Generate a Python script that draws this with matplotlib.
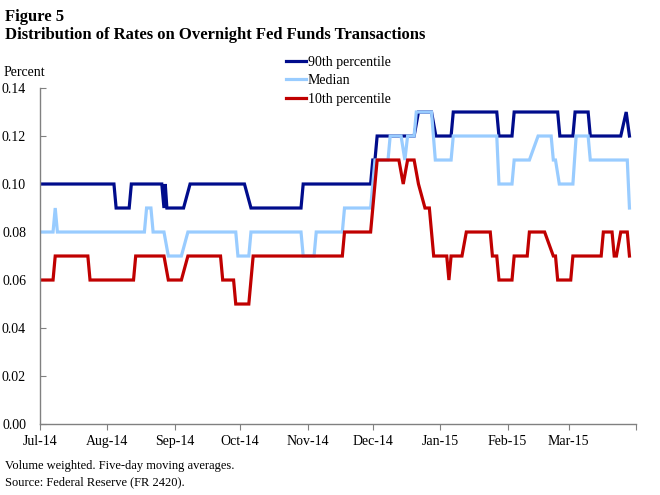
import matplotlib
matplotlib.use("Agg")
import matplotlib.pyplot as plt
import pandas as pd

# vertices (date, percent)
p90_dates = ["2014-07-01", "2014-08-04", "2014-08-05", "2014-08-11", "2014-08-12",
             "2014-08-26", "2014-08-27", "2014-08-27 14:00", "2014-08-28 08:00",
             "2014-09-05", "2014-09-08", "2014-10-03", "2014-10-06", "2014-10-29",
             "2014-10-30", "2014-11-30", "2014-12-01", "2014-12-02", "2014-12-03",
             "2014-12-20", "2014-12-22", "2014-12-28", "2014-12-30", "2015-01-06",
             "2015-01-07", "2015-01-27", "2015-01-28", "2015-02-03", "2015-02-04",
             "2015-02-24", "2015-02-25", "2015-03-03", "2015-03-04", "2015-03-10",
             "2015-03-11", "2015-03-25", "2015-03-27 12:00", "2015-03-29"]
p90_vals = [0.10, 0.10, 0.09, 0.09, 0.10,
            0.10, 0.09, 0.10, 0.09,
            0.09, 0.10, 0.10, 0.09, 0.09,
            0.10, 0.10, 0.11, 0.11, 0.12,
            0.12, 0.13, 0.13, 0.12, 0.12,
            0.13, 0.13, 0.12, 0.12, 0.13,
            0.13, 0.12, 0.12, 0.13, 0.13,
            0.12, 0.12, 0.13, 0.12]

median_dates = ["2014-07-01", "2014-07-07", "2014-07-08", "2014-07-09", "2014-08-18",
                "2014-08-19", "2014-08-21", "2014-08-22", "2014-08-27", "2014-08-29",
                "2014-09-04", "2014-09-07", "2014-09-29", "2014-09-30", "2014-10-05",
                "2014-10-06", "2014-10-29", "2014-10-30", "2014-11-04", "2014-11-05",
                "2014-11-17", "2014-11-18", "2014-11-30", "2014-12-01", "2014-12-02",
                "2014-12-08", "2014-12-09", "2014-12-14", "2014-12-15 18:00", "2014-12-17",
                "2014-12-20", "2014-12-21", "2014-12-28", "2014-12-29 18:00", "2015-01-06",
                "2015-01-07", "2015-01-27", "2015-01-28", "2015-02-03", "2015-02-04",
                "2015-02-11", "2015-02-15", "2015-02-21", "2015-02-22", "2015-02-23",
                "2015-02-24 18:00", "2015-03-03", "2015-03-04 12:00", "2015-03-10", "2015-03-11",
                "2015-03-28", "2015-03-29"]
median_vals = [0.08, 0.08, 0.09, 0.08, 0.08,
               0.09, 0.09, 0.08, 0.08, 0.07,
               0.07, 0.08, 0.08, 0.07, 0.07,
               0.08, 0.08, 0.07, 0.07, 0.08,
               0.08, 0.09, 0.09, 0.10, 0.11,
               0.11, 0.12, 0.12, 0.11, 0.12,
               0.12, 0.13, 0.13, 0.11, 0.11,
               0.12, 0.12, 0.10, 0.10, 0.11,
               0.11, 0.12, 0.12, 0.11, 0.11,
               0.10, 0.10, 0.12, 0.12, 0.11,
               0.11, 0.09]

p10_dates = ["2014-07-01", "2014-07-07", "2014-07-08", "2014-07-23", "2014-07-24",
             "2014-08-13", "2014-08-14", "2014-08-27", "2014-08-29", "2014-09-04",
             "2014-09-07", "2014-09-22", "2014-09-23", "2014-09-28", "2014-09-29",
             "2014-10-05", "2014-10-07", "2014-11-17", "2014-11-18", "2014-11-30",
             "2014-12-01", "2014-12-03", "2014-12-13", "2014-12-15", "2014-12-17",
             "2014-12-20", "2014-12-22", "2014-12-25", "2014-12-27", "2014-12-29",
             "2015-01-04", "2015-01-05", "2015-01-06", "2015-01-11", "2015-01-13",
             "2015-01-24", "2015-01-25", "2015-01-27", "2015-01-28", "2015-02-03",
             "2015-02-04", "2015-02-10", "2015-02-11", "2015-02-18", "2015-02-22",
             "2015-02-23", "2015-02-24", "2015-03-02", "2015-03-03", "2015-03-16",
             "2015-03-17", "2015-03-21", "2015-03-22", "2015-03-23", "2015-03-25",
             "2015-03-28", "2015-03-29"]
p10_vals = [0.06, 0.06, 0.07, 0.07, 0.06,
            0.06, 0.07, 0.07, 0.06, 0.06,
            0.07, 0.07, 0.06, 0.06, 0.05,
            0.05, 0.07, 0.07, 0.08, 0.08,
            0.09, 0.11, 0.11, 0.10, 0.11,
            0.11, 0.10, 0.09, 0.09, 0.07,
            0.07, 0.06, 0.07, 0.07, 0.08,
            0.08, 0.07, 0.07, 0.06, 0.06,
            0.07, 0.07, 0.08, 0.08, 0.07,
            0.07, 0.06, 0.06, 0.07, 0.07,
            0.08, 0.08, 0.07, 0.07, 0.08,
            0.08, 0.07]

month_ticks = ["2014-07-01", "2014-08-01", "2014-09-01", "2014-10-01", "2014-11-01",
               "2014-12-01", "2015-01-01", "2015-02-01", "2015-03-01", "2015-04-01"]
month_labels = ["Jul-14", "Aug-14", "Sep-14", "Oct-14", "Nov-14",
                "Dec-14", "Jan-15", "Feb-15", "Mar-15", ""]


def to_dates(values):
    return pd.to_datetime(values, format="ISO8601")


plt.rcParams["font.family"] = ["Liberation Serif", "DejaVu Serif"]

fig = plt.figure(figsize=(6.6, 4.95), dpi=100)
ax = fig.add_axes([0.0606, 0.1434, 0.9030, 0.6788])

ax.plot(to_dates(p90_dates), p90_vals, color="#000c8c", lw=2.3,
        label="90th percentile", solid_joinstyle="miter")
ax.plot(to_dates(median_dates), median_vals, color="#99ccff", lw=2.3,
        label="Median", solid_joinstyle="miter")
ax.plot(to_dates(p10_dates), p10_vals, color="#c00000", lw=2.3,
        label="10th percentile", solid_joinstyle="miter")

ax.set_ylim(0, 0.14)
ax.set_yticks([0.00, 0.02, 0.04, 0.06, 0.08, 0.10, 0.12, 0.14])
ax.yaxis.set_major_formatter(plt.FuncFormatter(lambda v, p: f"{v:.2f}"))
ax.set_xlim(pd.Timestamp("2014-07-01"), pd.Timestamp("2015-04-01"))
ax.set_xticks(to_dates(month_ticks))
ax.set_xticklabels(month_labels)

for side in ["top", "right"]:
    ax.spines[side].set_visible(False)
for side in ["left", "bottom"]:
    ax.spines[side].set_color("#808080")
    ax.spines[side].set_linewidth(1.0)
ax.tick_params(axis="y", direction="in", length=4, color="#808080",
               labelsize=10, pad=10)
ax.tick_params(axis="x", direction="out", length=4, color="#808080",
               labelsize=10, pad=4)

fig.text(0.008, 0.958, "Figure 5", fontsize=12, fontweight="bold", va="baseline")
fig.text(0.008, 0.922, "Distribution of Rates on Overnight Fed Funds Transactions",
         fontsize=12, fontweight="bold", va="baseline")
fig.text(0.006, 0.847, "Percent", fontsize=10, va="baseline")

fig.legend(loc="upper left", bbox_to_anchor=(0.425, 0.898), frameon=False,
           fontsize=10, handlelength=1.4, handletextpad=0.15,
           labelspacing=0.38, borderaxespad=0)

fig.text(0.008, 0.052, "Volume weighted. Five-day moving averages.",
         fontsize=9, va="baseline")
fig.text(0.008, 0.020, "Source: Federal Reserve (FR 2420).", fontsize=9, va="baseline")

fig.savefig("out.png", dpi=100)
